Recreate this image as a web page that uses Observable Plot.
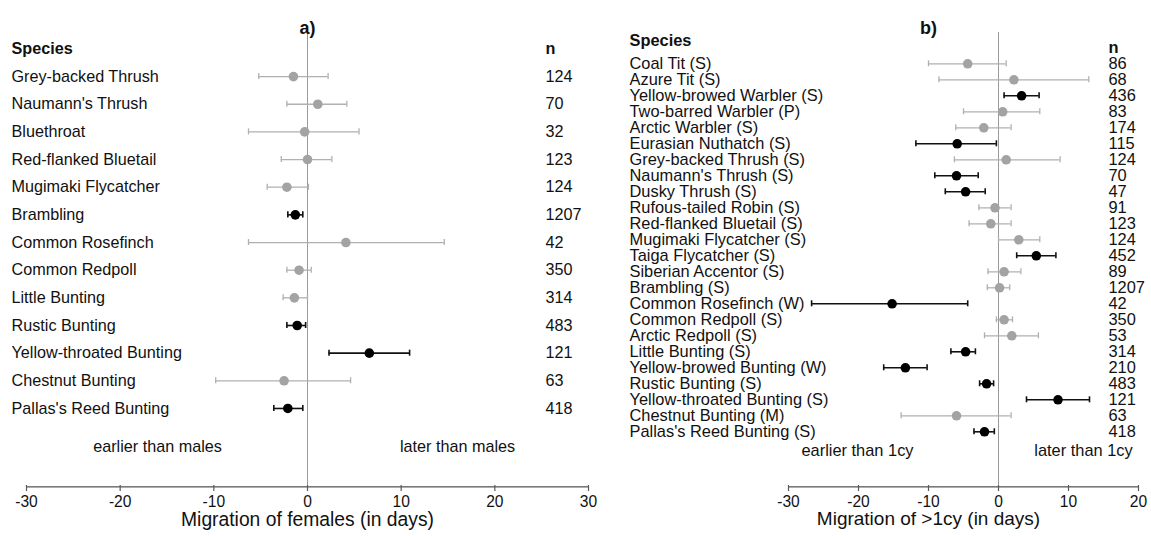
<!DOCTYPE html>
<html><head><meta charset="utf-8">
<script src="https://cdn.jsdelivr.net/npm/d3@7"></script>
<script src="https://cdn.jsdelivr.net/npm/@observablehq/plot@0.6"></script>
<style>
body{margin:0;background:#fff;}
#wrap{display:flex;width:1151px;height:536px;overflow:hidden;}
#wrap svg{display:block;}
</style></head><body><div id="wrap"></div>
<script>
// ---------- Panel a) data: migration of females relative to males ----------
const speciesA = ["Grey-backed Thrush","Naumann's Thrush","Bluethroat","Red-flanked Bluetail","Mugimaki Flycatcher","Brambling","Common Rosefinch","Common Redpoll","Little Bunting","Rustic Bunting","Yellow-throated Bunting","Chestnut Bunting","Pallas's Reed Bunting"];
const nA    = [124, 70, 32, 123, 124, 1207, 42, 350, 314, 483, 121, 63, 418];
const estA  = [-1.5, 1.1, -0.3, 0.0, -2.2, -1.3, 4.1, -0.9, -1.4, -1.1, 6.6, -2.5, -2.1];
const lowA  = [-5.2, -2.2, -6.3, -2.8, -4.3, -2.1, -6.3, -2.2, -2.6, -2.2, 2.3, -9.8, -3.6];
const highA = [2.2, 4.2, 5.5, 2.6, 0.1, -0.5, 14.6, 0.4, 0.0, -0.2, 10.9, 4.6, -0.5];
const sigA  = [false, false, false, false, false, true, false, false, false, true, true, false, true];
const ticksA = [-30, -20, -10, 0, 10, 20, 30];

// ---------- Panel b) data: migration of >1cy relative to 1cy ----------
const speciesB = ["Coal Tit (S)","Azure Tit (S)","Yellow-browed Warbler (S)","Two-barred Warbler (P)","Arctic Warbler (S)","Eurasian Nuthatch (S)","Grey-backed Thrush (S)","Naumann's Thrush (S)","Dusky Thrush (S)","Rufous-tailed Robin (S)","Red-flanked Bluetail (S)","Mugimaki Flycatcher (S)","Taiga Flycatcher (S)","Siberian Accentor (S)","Brambling (S)","Common Rosefinch (W)","Common Redpoll (S)","Arctic Redpoll (S)","Little Bunting (S)","Yellow-browed Bunting (W)","Rustic Bunting (S)","Yellow-throated Bunting (S)","Chestnut Bunting (M)","Pallas's Reed Bunting (S)"];
const nB    = [86, 68, 436, 83, 174, 115, 124, 70, 47, 91, 123, 124, 452, 89, 1207, 42, 350, 53, 314, 210, 483, 121, 63, 418];
const estB  = [-4.4, 2.2, 3.3, 0.6, -2.1, -5.9, 1.1, -6.0, -4.7, -0.5, -1.1, 2.9, 5.4, 0.8, 0.15, -15.2, 0.8, 1.9, -4.7, -13.3, -1.7, 8.5, -6.0, -2.0];
const lowB  = [-10.0, -8.5, 0.8, -5.0, -6.1, -11.8, -6.3, -9.1, -7.6, -2.8, -4.2, 0.0, 2.6, -1.5, -1.6, -26.7, -0.3, -2.0, -6.8, -16.4, -2.7, 4.0, -13.9, -3.5];
const highB = [1.1, 12.9, 5.8, 5.9, 1.8, -0.3, 8.8, -2.9, -1.9, 1.8, 1.8, 5.9, 8.2, 3.2, 1.6, -4.4, 2.0, 5.7, -3.3, -10.2, -0.7, 13.0, 1.8, -0.6];
const sigB  = [false, false, true, false, false, true, false, true, true, false, false, false, true, false, false, true, false, false, true, true, true, true, false, true];
const ticksB = [-30, -20, -10, 0, 10, 20];

const HEADER = "\u0000header";
const FONT = "'Liberation Sans', Arial, Helvetica, sans-serif";
const GREY_DOT = "#a3a3a3", GREY_BAR = "#b0b0b0", BLACK_BAR = "#111", BLACK_DOT = "#000";
const H = 536, MT = 32, MB = 49, FRAME_H = H - MT - MB;

function panel(cfg) {
  const rows = cfg.species.map((s, i) => ({species: s, n: cfg.n[i], est: cfg.est[i], low: cfg.low[i], high: cfg.high[i], sig: cfg.sig[i]}));
  const sig = rows.filter(d => d.sig), ns = rows.filter(d => !d.sig);
  const bars = (data, stroke, sw) => [
    Plot.ruleY(data, {y: "species", x1: "low", x2: "high", stroke, strokeWidth: sw}),
    Plot.tickX(data, {x: "low", y: "species", insetTop: cfg.capInset, insetBottom: cfg.capInset, stroke, strokeWidth: sw}),
    Plot.tickX(data, {x: "high", y: "species", insetTop: cfg.capInset, insetBottom: cfg.capInset, stroke, strokeWidth: sw})
  ];
  return Plot.plot({
    width: cfg.width, height: H,
    marginLeft: cfg.marginLeft, marginRight: cfg.marginRight, marginTop: MT, marginBottom: MB,
    style: {fontFamily: FONT, fontSize: cfg.fontSize + "px", color: "#111", background: "#fff", overflow: "visible"},
    x: {domain: cfg.domain, axis: null},
    y: {type: "band", domain: [HEADER, ...cfg.species], range: cfg.yRange, padding: 0, round: false, axis: null},
    marks: [
      // zero reference line
      Plot.ruleX([0], {stroke: "#9a9a9a", strokeWidth: 1}),
      // x axis: line, ticks, labels
      Plot.frame({fill: "#5a5a5a", stroke: "none", insetTop: FRAME_H - 1.3}),
      Plot.ruleX(cfg.ticks, {x: d => d, insetTop: FRAME_H - 6, dy: 4, stroke: "#5a5a5a", strokeWidth: 1.2}),
      Plot.text(cfg.ticks, {x: d => d, text: d => String(d), frameAnchor: "bottom", dy: cfg.tickDy, fontSize: 15.6}),
      // error bars and estimates
      ...bars(ns, GREY_BAR, 1.3),
      ...bars(sig, BLACK_BAR, 1.6),
      Plot.dot(ns, {x: "est", y: "species", r: 4.8, fill: GREY_DOT, stroke: null}),
      Plot.dot(sig, {x: "est", y: "species", r: 4.8, fill: BLACK_DOT, stroke: null}),
      // species and n columns
      Plot.text(rows, {y: "species", text: "species", frameAnchor: "left", dx: cfg.labelDx, textAnchor: "start"}),
      Plot.text(rows, {y: "species", text: d => String(d.n), frameAnchor: "right", dx: cfg.nDx, textAnchor: "start"}),
      Plot.text(["Species"], {y: () => HEADER, frameAnchor: "left", dx: cfg.labelDx, dy: cfg.headerDy, textAnchor: "start", fontWeight: "bold"}),
      Plot.text(["n"], {y: () => HEADER, frameAnchor: "right", dx: cfg.nDx, textAnchor: "start", fontWeight: "bold"}),
      // titles and annotations
      Plot.text([cfg.title], {frameAnchor: "top", dx: cfg.titleDx, dy: -11, fontWeight: "bold", fontSize: 18}),
      Plot.text([cfg.xLabel], {frameAnchor: "bottom", dx: cfg.xLabelDx, dy: cfg.xLabelDy, fontSize: cfg.labelSize}),
      Plot.text([cfg.notes[0]], {frameAnchor: "bottom", dx: cfg.noteDx[0], dy: cfg.noteDy}),
      Plot.text([cfg.notes[1]], {frameAnchor: "bottom", dx: cfg.noteDx[1], dy: cfg.noteDy})
    ]
  });
}

const wrap = document.getElementById("wrap");
wrap.append(panel({
  species: speciesA, n: nA, est: estA, low: lowA, high: highA, sig: sigA, ticks: ticksA,
  width: 600, marginLeft: 26, marginRight: 12, domain: [-30, 30],
  yRange: [34.6, 421.8], capInset: 10.8, fontSize: 16.2,
  labelDx: -15, nDx: -43, headerDy: 0, tickDy: 19.5,
  title: "a)", titleDx: 0, xLabel: "Migration of females (in days)", xLabelDx: 0, xLabelDy: 38.5, labelSize: 19.3,
  notes: ["earlier than males", "later than males"], noteDx: [-150, 150], noteDy: -36
}));
wrap.append(panel({
  species: speciesB, n: nB, est: estB, low: lowB, high: highB, sig: sigB, ticks: ticksB,
  width: 551, marginLeft: 188, marginRight: 13, domain: [-30, 20],
  yRange: [39.3, 439.3], capInset: 5, fontSize: 16.4,
  labelDx: -159, nDx: -30, headerDy: -7, tickDy: 19,
  title: "b)", titleDx: -35, xLabel: "Migration of >1cy (in days)", xLabelDx: -35, xLabelDy: 37, labelSize: 19,
  notes: ["earlier than 1cy", "later than 1cy"], noteDx: [-106, 120], noteDy: -32
}));
</script></body></html>
